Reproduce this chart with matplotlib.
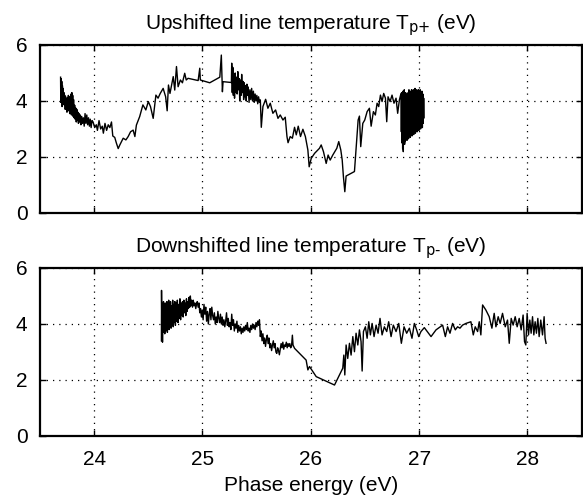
import matplotlib
matplotlib.use("Agg")
import matplotlib.pyplot as plt

plt.rcParams['font.family'] = ['Liberation Sans', 'DejaVu Sans']
plt.rcParams['mathtext.default'] = 'regular'

# upshifted line temperature T_p+ (eV) vs phase energy (eV)
up_x = [23.690, 23.692, 23.695, 23.698, 23.701, 23.704, 23.707, 23.710, 23.714, 23.717,
        23.721, 23.725, 23.729, 23.733, 23.737, 23.741, 23.745, 23.749, 23.753, 23.757,
        23.762, 23.766, 23.770, 23.774, 23.778, 23.782, 23.786, 23.790, 23.794, 23.798,
        23.802, 23.806, 23.810, 23.815, 23.820, 23.825, 23.830, 23.835, 23.840, 23.845,
        23.850, 23.855, 23.860, 23.866, 23.872, 23.878, 23.885, 23.892, 23.900, 23.908,
        23.916, 23.924, 23.932, 23.940, 23.948, 23.956, 23.964, 23.972, 23.980,
        23.990, 24.005, 24.020, 24.030, 24.045, 24.060, 24.075, 24.085, 24.100, 24.115,
        24.130, 24.145, 24.160, 24.172, 24.190, 24.205, 24.222,
        24.237, 24.268, 24.293, 24.314, 24.336, 24.360, 24.376, 24.390, 24.420, 24.450,
        24.477, 24.500, 24.520, 24.545, 24.570, 24.590, 24.610, 24.637, 24.660, 24.674,
        24.686, 24.700, 24.730, 24.744, 24.760, 24.775, 24.796, 24.815, 24.836, 24.850,
        24.867, 24.960, 24.975, 24.980, 25.067, 25.160, 25.174, 25.184, 25.190, 25.267,
        25.270, 25.275, 25.280, 25.285, 25.290, 25.296, 25.302, 25.308, 25.314, 25.320,
        25.326, 25.332, 25.338, 25.344, 25.350, 25.356, 25.362, 25.368, 25.374, 25.380,
        25.386, 25.392, 25.398, 25.404, 25.410, 25.416, 25.422, 25.430, 25.438, 25.446,
        25.454, 25.462, 25.470, 25.478, 25.486, 25.494, 25.502, 25.510, 25.518, 25.526,
        25.534, 25.543, 25.558, 25.583, 25.604, 25.626, 25.650, 25.675, 25.697, 25.718,
        25.743, 25.764, 25.780, 25.790, 25.810, 25.830, 25.850, 25.866, 25.884, 25.905,
        25.927, 25.950, 25.973, 25.985, 26.004, 26.035, 26.080,
        26.096, 26.117, 26.142, 26.160, 26.179, 26.203, 26.222, 26.240, 26.258, 26.277,
        26.290, 26.301, 26.314, 26.326, 26.403, 26.424, 26.437, 26.449, 26.461, 26.480,
        26.498, 26.520, 26.541, 26.557, 26.578, 26.596, 26.612, 26.627, 26.643, 26.658,
        26.673, 26.689, 26.701, 26.713, 26.732, 26.750, 26.768, 26.787, 26.802, 26.818,
        26.833, 26.836, 26.839, 26.842, 26.845, 26.848, 26.851, 26.854, 26.857, 26.860,
        26.863, 26.866, 26.869, 26.872, 26.875, 26.878, 26.881, 26.884, 26.887, 26.890,
        26.893, 26.896, 26.899, 26.902, 26.906, 26.910, 26.914, 26.918, 26.922, 26.926,
        26.930, 26.934, 26.938, 26.942, 26.946, 26.950, 26.954, 26.958, 26.962, 26.966,
        26.970, 26.974, 26.978, 26.982, 26.986, 26.990, 26.994, 26.998, 27.002, 27.006,
        27.010, 27.014, 27.018, 27.022, 27.026, 27.030, 27.034, 27.038, 27.042, 27.046]
up_y = [4.85, 3.95, 4.80, 4.05, 4.70, 3.80, 4.55, 4.10, 4.45, 3.90,
        4.30, 3.85, 4.20, 3.70, 4.15, 3.80, 4.05, 3.60, 4.10, 3.75,
        4.20, 3.65, 4.15, 3.55, 4.10, 3.70, 4.25, 3.50, 4.30, 3.60,
        4.20, 3.45, 4.05, 3.40, 3.85, 3.35, 3.75, 3.25, 3.70, 3.30,
        3.60, 3.20, 3.55, 3.25, 3.50, 3.15, 3.45, 3.20, 3.40, 3.10,
        3.55, 3.20, 3.50, 3.15, 3.40, 3.10, 3.35, 3.05, 3.30,
        3.25, 3.05, 3.15, 2.95, 3.30, 3.00, 3.10, 2.85, 3.20, 2.95,
        3.15, 3.05, 3.25, 2.75, 2.70, 2.50, 2.30,
        2.43, 2.67, 2.61, 2.73, 2.90, 2.96, 2.73, 3.14, 3.44, 3.86,
        3.68, 3.98, 3.80, 3.38, 4.21, 4.10, 4.27, 4.45, 4.15, 3.65,
        4.57, 4.27, 4.87, 4.39, 5.23, 4.51, 4.75, 4.65, 4.99, 4.75,
        4.81, 4.73, 5.17, 4.75, 4.65, 4.85, 5.64, 4.33, 4.69, 4.66,
        5.35, 4.30, 5.20, 4.20, 4.90, 4.10, 5.00, 4.30, 4.85, 4.25,
        5.05, 4.40, 4.80, 4.00, 4.75, 4.20, 4.95, 4.30, 4.70, 4.05,
        4.65, 4.15, 4.55, 4.00, 4.60, 4.20, 4.50, 3.95, 4.40, 4.05,
        4.45, 4.00, 4.35, 3.95, 4.25, 4.00, 4.20, 3.90, 4.15, 3.95,
        4.04, 3.06, 3.80, 4.06, 3.74, 3.92, 3.56, 3.68, 3.38, 3.50,
        3.32, 3.42, 2.73, 2.51, 2.73, 2.67, 3.06, 2.79, 3.10, 2.73,
        2.99, 2.73, 2.25, 1.65, 1.95, 2.13, 2.31,
        2.43, 2.19, 1.77, 2.07, 1.89, 2.07, 2.19, 2.31, 2.55, 2.25,
        1.89, 1.30, 0.76, 1.32, 1.48, 2.60, 3.32, 3.46, 2.37, 3.20,
        3.32, 3.62, 3.74, 3.10, 3.62, 3.50, 3.92, 3.80, 4.21, 3.98,
        4.27, 4.10, 3.26, 4.15, 3.98, 4.21, 3.92, 4.10, 3.56, 4.04,
        4.27, 2.90, 4.30, 2.50, 4.20, 2.30, 4.35, 2.19, 4.10, 2.60,
        4.40, 2.45, 4.20, 2.55, 4.30, 2.60, 4.00, 2.65, 4.25, 2.60,
        3.90, 2.70, 4.30, 2.65, 4.40, 2.75, 4.35, 2.70, 4.30, 2.80,
        4.40, 2.75, 4.25, 2.85, 4.40, 2.80, 4.30, 2.90, 4.45, 2.85,
        4.35, 2.95, 4.40, 2.90, 4.30, 3.00, 4.40, 2.95, 4.35, 3.05,
        4.40, 3.00, 4.30, 3.10, 4.35, 3.05, 4.25, 3.20, 4.10, 3.40]

# downshifted line temperature T_p- (eV) vs phase energy (eV)
dn_x = [24.621, 24.622, 24.625, 24.628, 24.631, 24.634, 24.637, 24.640, 24.644, 24.648,
        24.652, 24.656, 24.660, 24.664, 24.668, 24.672, 24.676, 24.680, 24.684, 24.688,
        24.692, 24.696, 24.700, 24.705, 24.710, 24.715, 24.720, 24.725, 24.730, 24.735,
        24.740, 24.745, 24.750, 24.756, 24.762, 24.768, 24.774, 24.780, 24.786, 24.792,
        24.798, 24.804, 24.810, 24.816, 24.822, 24.828, 24.834, 24.840, 24.846, 24.852,
        24.858, 24.864, 24.870, 24.876, 24.882, 24.888, 24.894, 24.900,
        24.908, 24.915, 24.922, 24.930, 24.938, 24.945, 24.952, 24.960, 24.968,
        24.975, 24.982, 24.990, 24.998, 25.006, 25.014, 25.022, 25.030, 25.038, 25.046,
        25.054, 25.062, 25.070, 25.078, 25.086, 25.094, 25.102, 25.110, 25.118, 25.126,
        25.134, 25.142, 25.150, 25.158, 25.166, 25.174, 25.182, 25.190, 25.198, 25.206,
        25.214, 25.222, 25.230, 25.238, 25.246, 25.254, 25.262, 25.270, 25.278, 25.286,
        25.294, 25.302, 25.310, 25.318, 25.326, 25.334, 25.342, 25.350, 25.358, 25.366,
        25.374, 25.382, 25.390, 25.398, 25.406, 25.414, 25.422, 25.430, 25.438, 25.446,
        25.454, 25.462, 25.470, 25.478, 25.486, 25.494, 25.502, 25.510, 25.518, 25.526,
        25.534, 25.542, 25.550, 25.558, 25.566, 25.574, 25.582, 25.590, 25.598, 25.606,
        25.614, 25.622, 25.630, 25.638, 25.646, 25.654, 25.662, 25.670, 25.678, 25.686,
        25.694, 25.702, 25.710, 25.718, 25.726, 25.734, 25.742, 25.750, 25.758, 25.766,
        25.774, 25.782, 25.790, 25.798, 25.806, 25.814, 25.822, 25.830, 25.836,
        25.850, 25.957, 25.973, 25.988, 26.050, 26.219,
        26.295, 26.305, 26.314, 26.326, 26.341, 26.357, 26.372, 26.388, 26.403, 26.418,
        26.434, 26.449, 26.464, 26.474, 26.486, 26.504, 26.520, 26.535, 26.550, 26.566,
        26.584, 26.603, 26.621, 26.639, 26.658, 26.679, 26.701, 26.719, 26.741, 26.762,
        26.787, 26.812, 26.836, 26.861, 26.885, 26.910, 26.934, 26.956, 26.977, 26.996,
        27.017, 27.048, 27.110, 27.156, 27.217, 27.242, 27.263, 27.285, 27.309, 27.334,
        27.355, 27.377, 27.401, 27.432, 27.478, 27.500, 27.518, 27.540, 27.555, 27.570,
        27.586, 27.616, 27.647, 27.672, 27.693, 27.709, 27.730, 27.748, 27.770, 27.795,
        27.816, 27.832, 27.850, 27.868, 27.887, 27.905, 27.924, 27.942, 27.960, 27.973,
        27.985, 27.997, 28.010, 28.022, 28.034, 28.047, 28.059, 28.071, 28.083, 28.096,
        28.108, 28.123, 28.139, 28.154, 28.163, 28.172]
dn_y = [3.40, 5.20, 3.90, 4.70, 3.35, 4.60, 3.70, 4.80, 3.80, 4.55,
        3.65, 4.75, 3.75, 4.60, 3.85, 4.80, 3.70, 4.65, 3.90, 4.85,
        3.80, 4.70, 3.95, 4.80, 3.85, 4.65, 3.95, 4.85, 3.90, 4.70,
        4.05, 4.80, 3.95, 4.75, 4.10, 4.85, 4.05, 4.70, 4.20, 4.90,
        4.15, 4.75, 4.30, 4.80, 4.25, 4.85, 4.40, 4.75, 4.30, 4.90,
        4.45, 4.80, 4.55, 4.95, 4.60, 5.00, 4.65, 4.85,
        4.60, 4.85, 4.65, 4.75, 4.55, 4.70, 4.80, 4.60, 4.75,
        4.40, 4.55, 4.25, 4.50, 4.15, 4.70, 4.35, 4.60, 4.10, 4.45,
        4.00, 4.35, 4.55, 4.15, 4.60, 4.30, 4.15, 4.40, 4.00, 4.25,
        4.05, 4.45, 4.20, 4.05, 4.35, 4.00, 4.25, 3.95, 4.15, 3.90,
        4.10, 4.40, 3.95, 4.20, 3.90, 4.05, 3.80, 4.35, 3.95, 4.15,
        3.75, 4.00, 3.85, 4.10, 3.70, 3.95, 3.75, 3.90, 3.65, 3.85,
        3.70, 3.90, 3.75, 3.95, 3.80, 4.05, 3.75, 3.85, 3.70, 3.95,
        3.80, 4.00, 3.85, 3.95, 3.80, 4.05, 3.90, 4.10, 3.95, 4.15,
        3.55, 3.75, 3.40, 3.65, 3.30, 3.50, 3.20, 3.45, 3.60, 3.30,
        3.50, 3.15, 3.30, 3.05, 3.25, 3.40, 3.15, 3.30, 3.00, 2.95,
        3.15, 3.05, 2.90, 3.10, 3.30, 3.15, 3.35, 3.10, 3.25, 3.20,
        3.35, 3.15, 3.30, 3.20, 3.30, 3.15, 3.20, 3.60, 3.25,
        3.13, 2.71, 2.36, 2.48, 2.12, 1.82,
        2.42, 2.89, 2.18, 3.25, 2.77, 3.31, 2.89, 3.55, 3.01, 3.67,
        3.25, 3.79, 3.37, 2.32, 3.73, 3.90, 3.49, 4.08, 3.61, 4.02,
        3.55, 3.96, 3.67, 4.20, 3.61, 3.90, 3.73, 4.08, 3.55, 3.96,
        3.73, 4.02, 3.31, 3.90, 3.67, 3.85, 3.49, 4.02, 3.79, 3.55,
        3.73, 3.87, 3.55, 3.79, 3.96, 3.55, 3.90, 3.67, 4.02, 3.79,
        3.90, 3.85, 3.96, 4.02, 4.08, 3.61, 3.90, 3.73, 4.08, 3.61,
        4.68, 4.50, 4.26, 3.85, 4.38, 3.90, 4.26, 4.02, 4.38, 3.90,
        4.14, 3.31, 4.20, 3.96, 4.26, 3.90, 4.20, 3.79, 4.32, 3.37,
        3.25, 4.38, 3.61, 4.14, 3.67, 4.26, 3.61, 4.08, 3.67, 4.20,
        3.55, 4.14, 3.61, 4.26, 3.49, 3.31]

titles = [r"Upshifted line temperature T$_{\text{p+}}$ (eV)",
          r"Downshifted line temperature T$_{\text{p-}}$ (eV)"]

fig = plt.figure(figsize=(5.83, 4.96), dpi=100)
ax1 = fig.add_axes([0.0686, 0.5706, 0.929, 0.3387])
ax2 = fig.add_axes([0.0686, 0.1210, 0.929, 0.3387])

for ax, xs, ys, title in [(ax1, up_x, up_y, titles[0]), (ax2, dn_x, dn_y, titles[1])]:
    ax.plot(xs, ys, color='black', linewidth=1.0)
    ax.set_xlim(23.5, 28.5)
    ax.set_ylim(0, 6)
    ax.set_xticks([24, 25, 26, 27, 28])
    ax.set_yticks([0, 2, 4, 6])
    ax.grid(True, color='black', linestyle=(0, (1, 4)), linewidth=0.9)
    ax.tick_params(direction='in', top=True, right=True, length=4, width=1,
                   labelsize=15)
    ax.tick_params(axis='x', pad=10)
    ax.tick_params(axis='y', pad=9)
    for sp in ax.spines.values():
        sp.set_linewidth(1.6)
    ax.set_title(title, fontsize=15, pad=11)

ax1.set_xticklabels([])
ax2.set_xlabel("Phase energy (eV)", fontsize=15, labelpad=5)

plt.savefig("out.png", dpi=100)
